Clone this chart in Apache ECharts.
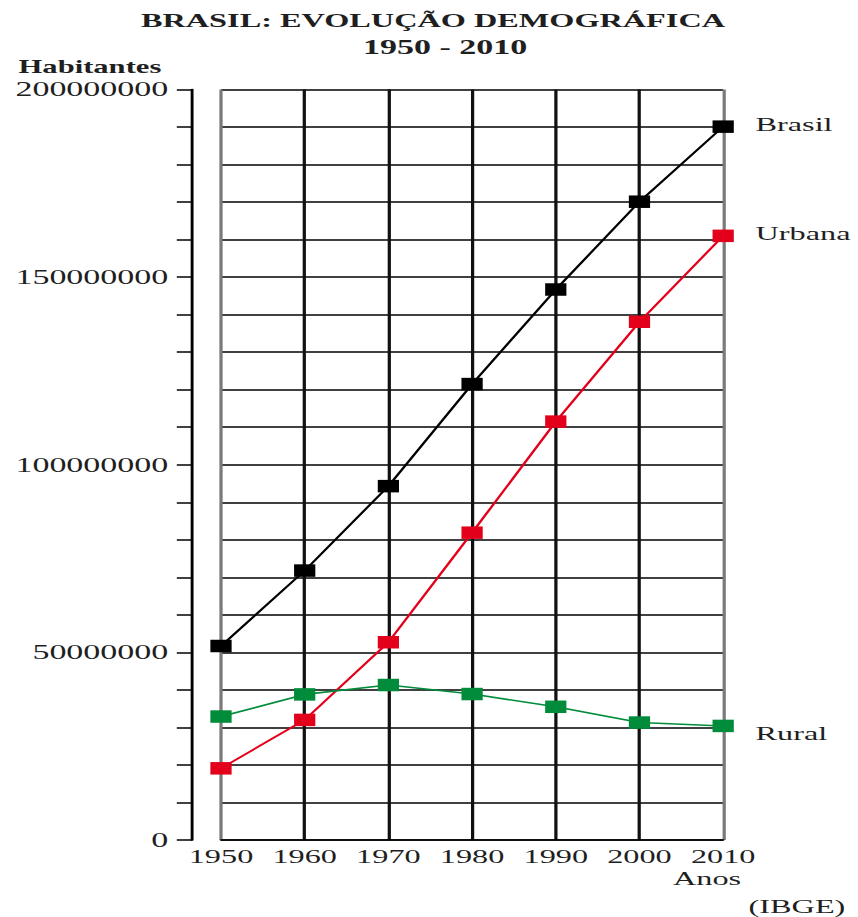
<!DOCTYPE html>
<html>
<head>
<meta charset="utf-8">
<script src="https://cdn.jsdelivr.net/npm/echarts@6/dist/echarts.min.js"></script>
<style>
  html, body { margin: 0; padding: 0; background: #fff; overflow: hidden; }
  #main { height: 917px; transform-origin: 0 0; }
</style>
</head>
<body>
<div id="main"></div>
<script>
// ---- data ----
const years = [1950, 1960, 1970, 1980, 1990, 2000, 2010];
const brasil = [51700000, 71800000, 94300000, 121500000, 146700000, 170100000, 190100000];
const urbana = [19100000, 32000000, 52700000, 81900000, 111500000, 138100000, 161000000];
const rural  = [32900000, 38800000, 41300000, 38900000, 35500000, 31300000, 30400000];
const yTickLabels = ['0', '50000000', '100000000', '150000000', '200000000'];
const seriesNames = ['Brasil', 'Urbana', 'Rural'];
const seriesColors = ['#000000', '#e3001b', '#008c3a'];

// horizontal stretch of the original picture
const S = 1.7;
const W = 858 / S;
const el = document.getElementById('main');
el.style.width = W + 'px';
el.style.transform = 'scaleX(' + S + ')';

const FONT = '"Liberation Serif", "Times New Roman", serif';
const TXT = '#1f1f1f';

const chart = echarts.init(el, null, { renderer: 'svg' });

function mk(name, vals, color, labelOffset) {
  return {
    name: name,
    type: 'line',
    data: years.map((y, i) => [y, vals[i]]),
    symbol: 'rect',
    symbolSize: 12.5,
    showAllSymbol: true,
    itemStyle: { color: color },
    lineStyle: { color: color, width: 1.6 },
    z: 5,
    endLabel: {
      show: true,
      formatter: '{a}',
      distance: 19,
      offset: labelOffset,
      color: TXT,
      fontFamily: FONT,
      fontSize: 19
    },
    animation: false
  };
}

const option = {
  animation: false,
  grid: { left: 130, right: W - 425.1, top: 89.5, bottom: 77, containLabel: false, outerBoundsMode: 'none' },
  xAxis: {
    type: 'value',
    min: 1950, max: 2010, interval: 10,
    axisLine: { show: true, lineStyle: { color: '#000', width: 1.5 } },
    axisTick: { show: false },
    axisLabel: { color: TXT, fontFamily: FONT, fontSize: 19, margin: 7, formatter: v => String(v) },
    splitLine: { show: true, lineStyle: { color: ['#7a7a7a', '#111', '#111', '#111', '#111', '#111', '#7a7a7a'], width: 1.9 } }
  },
  yAxis: {
    type: 'value',
    min: 0, max: 200000000, interval: 10000000,
    offset: 17,
    axisLine: { show: true, lineStyle: { color: '#000', width: 1.7 } },
    axisTick: { show: true, length: 9, inside: false, lineStyle: { color: '#000', width: 1.5 } },
    axisLabel: {
      color: TXT, fontFamily: FONT, fontSize: 20, margin: 14,
      formatter: v => (yTickLabels.indexOf(String(v)) >= 0 ? String(v) : '')
    },
    splitLine: { show: true, lineStyle: { color: '#000', width: 1.5 } }
  },
  series: [
    mk(seriesNames[0], brasil, seriesColors[0], [0, -2]),
    mk(seriesNames[1], urbana, seriesColors[1], [0, -2]),
    mk(seriesNames[2], rural, seriesColors[2], [0, 8])
  ],
  graphic: [
    { type: 'text', x: 254.7, y: 20.5, style: { text: 'BRASIL: EVOLUÇÃO DEMOGRÁFICA', font: 'bold 19px ' + FONT, fill: TXT, textAlign: 'center', textVerticalAlign: 'middle' } },
    { type: 'text', x: 261.8, y: 47, style: { text: '1950 - 2010', font: 'bold 20px ' + FONT, fill: TXT, textAlign: 'center', textVerticalAlign: 'middle' } },
    { type: 'text', x: 52.9, y: 67, style: { text: 'Habitantes', font: 'bold 18px ' + FONT, fill: TXT, textAlign: 'center', textVerticalAlign: 'middle' } },
    { type: 'text', x: 415.9, y: 878.5, style: { text: 'Anos', font: '19px ' + FONT, fill: TXT, textAlign: 'center', textVerticalAlign: 'middle' } },
    { type: 'text', x: 468.8, y: 907, style: { text: '(IBGE)', font: '19px ' + FONT, fill: TXT, textAlign: 'center', textVerticalAlign: 'middle' } }
  ]
};
chart.setOption(option);
</script>
</body>
</html>
